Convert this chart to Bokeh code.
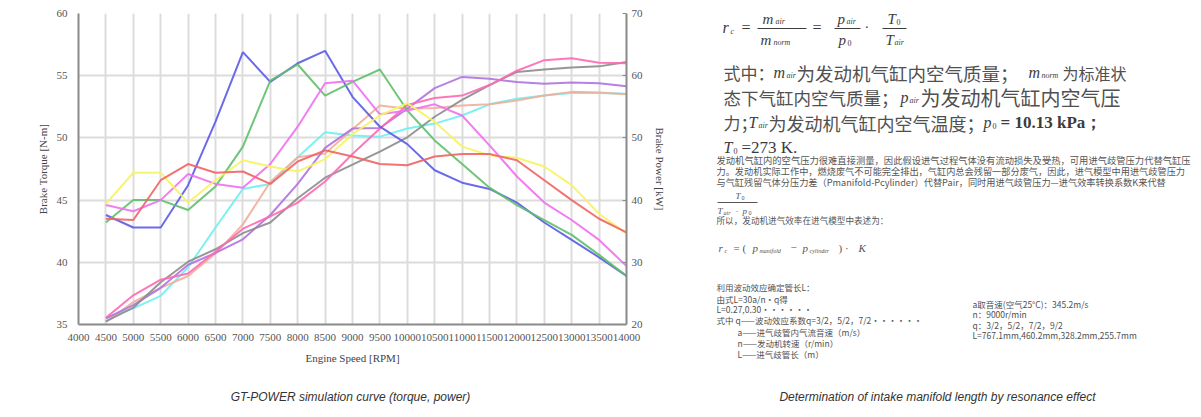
from bokeh.plotting import figure
from bokeh.models import Range1d, LinearAxis, FixedTicker, ColumnDataSource
from bokeh.embed import file_html
from bokeh.resources import INLINE

# ---------------- data ----------------
rpm = [4500, 5000, 5500, 6000, 6500, 7000, 7500, 8000, 8500, 9000,
       9500, 10000, 10500, 11000, 11500, 12000, 12500, 13000, 13500, 14000]

# Brake torque [N-m] (left axis)
torque_blue = [43.8, 42.8, 42.8, 46.2, 51.3, 56.9, 54.5, 56.0, 57.0, 53.3,
               50.9, 49.5, 47.4, 46.4, 45.9, 44.8, 43.2, 41.8, 40.4, 38.9]
torque_green = [43.2, 45.0, 45.0, 44.2, 46.1, 49.3, 54.6, 55.9, 53.4, 54.5,
                55.5, 52.2, 49.8, 47.9, 46.0, 44.6, 43.4, 42.2, 40.6, 38.9]
torque_magenta = [44.6, 44.1, 45.0, 47.1, 46.3, 46.0, 47.9, 50.9, 54.4, 54.6,
                  51.9, 52.2, 52.7, 51.8, 49.4, 46.9, 44.8, 43.4, 41.8, 39.7]
torque_yellow = [44.7, 47.2, 47.2, 44.8, 46.6, 48.2, 47.7, 47.3, 48.3, 50.3,
                 51.8, 52.8, 51.3, 49.3, 48.6, 48.4, 47.7, 46.2, 43.9, 42.3]
torque_red = [43.5, 43.4, 46.6, 47.9, 47.2, 47.3, 46.3, 48.1, 49.0, 48.5,
              47.9, 47.8, 48.5, 48.7, 48.7, 48.2, 46.6, 45.0, 43.5, 42.4]

# Brake power [kW] (right axis)
power_cyan = [21.0, 22.6, 24.6, 29.2, 35.6, 41.8, 42.6, 46.9, 50.9, 50.4,
              50.2, 51.5, 52.3, 53.6, 55.4, 56.3, 56.8, 57.2, 57.2, 57.1]
power_salmon = [20.4, 23.6, 25.9, 27.8, 31.4, 36.1, 42.9, 46.9, 47.5, 51.4,
                55.2, 54.7, 54.8, 55.2, 55.4, 56.0, 56.8, 57.4, 57.3, 57.0]
power_purple = [21.0, 23.1, 25.9, 29.6, 31.5, 33.7, 37.6, 42.6, 48.4, 51.5,
                51.6, 54.7, 58.0, 59.8, 59.5, 59.0, 58.7, 58.9, 58.8, 58.3]
power_gray = [20.5, 22.7, 26.8, 30.1, 32.1, 34.7, 36.4, 40.3, 43.6, 45.7,
              47.8, 50.1, 53.4, 56.1, 58.5, 60.6, 61.0, 61.3, 61.5, 62.2]
power_pink = [21.1, 24.7, 27.2, 28.2, 31.7, 35.4, 37.4, 39.6, 43.0, 47.4,
              51.5, 55.3, 56.4, 56.8, 58.5, 60.8, 62.5, 62.8, 62.1, 62.0]

x_ticks = list(range(4000, 14001, 500))
torque_ticks = [35, 40, 45, 50, 55, 60]
power_ticks = [20, 30, 40, 50, 60, 70]

SERIF = "Liberation Serif"
CJK = "Noto Sans CJK SC"
SANS = "Liberation Sans"

# ---------------- left chart ----------------
p = figure(width=690, height=417, output_backend="svg", toolbar_location=None,
           x_range=Range1d(4000, 14000), y_range=Range1d(35, 60),
           min_border_left=78, min_border_right=64, min_border_top=13,
           min_border_bottom=93)
p.outline_line_color = None
p.background_fill_color = "white"
p.border_fill_color = "white"
p.extra_y_ranges = {"power": Range1d(20, 70)}

p.xaxis.ticker = FixedTicker(ticks=x_ticks)
p.yaxis.ticker = FixedTicker(ticks=torque_ticks)
for ax in (p.xaxis[0], p.yaxis[0]):
    ax.axis_line_color = "#8a8a8a"
    ax.axis_line_width = 2
    ax.major_tick_line_color = None
    ax.minor_tick_line_color = None
    ax.major_label_text_font = SERIF
    ax.major_label_text_font_size = "11px"
    ax.major_label_text_color = "#555555"
    ax.axis_label_text_font = SERIF
    ax.axis_label_text_font_size = "11px"
    ax.axis_label_text_font_style = "normal"
    ax.axis_label_text_color = "#444444"
p.xaxis.axis_label = "Engine Speed [RPM]"
p.yaxis.axis_label = "Brake Torque [N-m]"
p.xaxis.major_label_standoff = 3
p.xaxis.axis_label_standoff = 8

pax = LinearAxis(y_range_name="power", ticker=FixedTicker(ticks=power_ticks),
                 axis_label="Brake Power [kW]")
pax.axis_line_color = "#8a8a8a"
pax.axis_line_width = 2
pax.major_tick_in = 4
pax.major_tick_out = 0
pax.major_tick_line_color = "#8a8a8a"
pax.minor_tick_line_color = None
pax.major_label_text_font = SERIF
pax.major_label_text_font_size = "11px"
pax.major_label_text_color = "#555555"
pax.axis_label_text_font = SERIF
pax.axis_label_text_font_size = "11px"
pax.axis_label_text_font_style = "normal"
pax.axis_label_text_color = "#444444"
pax.axis_label_standoff = 8
p.add_layout(pax, "right")

p.xgrid.grid_line_color = "#dcdcdc"
p.xgrid.grid_line_width = 2
p.ygrid.grid_line_color = "#dcdcdc"
p.ygrid.grid_line_width = 2

torque_series = [
    (torque_blue, "#5b5be8"),
    (torque_green, "#5fbf6a"),
    (torque_magenta, "#f070f0"),
    (torque_yellow, "#f7f35e"),
    (torque_red, "#f06464"),
]
power_series = [
    (power_cyan, "#6ff0f0"),
    (power_salmon, "#f2ae98"),
    (power_purple, "#b072e0"),
    (power_gray, "#8c8c8c"),
    (power_pink, "#ff68b4"),
]
for vals, col in power_series:
    p.line(rpm, vals, y_range_name="power", line_color=col, line_width=2, line_alpha=0.9)
for vals, col in torque_series:
    p.line(rpm, vals, line_color=col, line_width=2, line_alpha=0.9)

# ---------------- text overlay (whole window, page pixel coordinates) ----------------
q = figure(width=1201, height=417, output_backend="svg", toolbar_location=None,
           x_range=Range1d(0, 1201), y_range=Range1d(417, 0),
           min_border=0, x_axis_type=None, y_axis_type=None,
           stylesheets=[":host { position: absolute !important; left: 0px !important; "
                        "top: 0px !important; z-index: 5; }"])
q.outline_line_color = None
q.grid.visible = False
q.background_fill_color = None
q.border_fill_color = None

segs = []
def S(x, y, t, size, style="normal", font=SERIF, color="#3c3c3c", align="left"):
    segs.append((x, y, t, f"{size}px", style, font, color, align))

# captions
S(350, 396, "GT-POWER simulation curve (torque, power)", 12, "italic", SANS, "#333333", "center")
S(937, 396, "Determination of intake manifold length by resonance effect", 12, "italic", SANS, "#333333", "center")

# formula 1
S(722, 27, "r", 16, "italic"); S(730, 31, "c", 8, "italic")
S(741, 27, "=", 16)
S(762, 18, "m", 15, "italic"); S(775, 21, "air", 8, "italic")
S(760, 39, "m", 15, "italic"); S(773, 42, "norm", 8, "italic")
S(812, 27, "=", 16)
S(837, 18, "p", 15, "italic"); S(846, 21, "air", 8, "italic")
S(838, 39, "p", 15, "italic"); S(847, 42, "0", 8)
S(864, 27, "·", 14)
S(887, 18, "T", 15, "italic"); S(896, 21, "0", 8)
S(885, 39, "T", 15, "italic"); S(894, 42, "air", 8, "italic")

# paragraph
PC = "#505050"
S(723, 72, "式中：", 17, font=CJK, color=PC)
S(773, 72, "m", 16, "italic"); S(786, 75, "air", 8, "italic")
S(796, 72, "为发动机气缸内空气质量；", 18.5, font=CJK, color=PC)
S(1028, 72, "m", 16, "italic"); S(1041, 75, "norm", 8, "italic")
S(1062, 72, "为标准状", 16, font=CJK, color=PC)
S(723, 97, "态下气缸内空气质量；", 17.5, font=CJK, color=PC)
S(900, 97, "p", 16, "italic"); S(909, 100, "air", 8, "italic")
S(920, 97, "为发动机气缸内空气压", 20, font=CJK, color=PC)
S(723, 122, "力；", 17, font=CJK, color=PC)
S(748, 122, "T", 16, "italic"); S(758, 125, "air", 8, "italic")
S(768, 122, "为发动机气缸内空气温度；", 18, font=CJK, color=PC)
S(983, 122, "p", 16, "italic"); S(992, 125, "0", 8)
S(1000, 122, "= 10.13 kPa；", 17, "bold")
S(723, 147, "T", 16, "italic"); S(733, 150, "0", 8)
S(741, 147, "=273 K.", 17)

# small paragraph
SC = "#555555"
S(716, 159, "发动机气缸内的空气压力很难直接测量，因此假设进气过程气体没有流动损失及受热，可用进气歧管压力代替气缸压", 9.3, font=CJK, color=SC)
S(716, 170, "力。发动机实际工作中，燃烧废气不可能完全排出，气缸内总会残留一部分废气，因此，进气模型中用进气歧管压力", 9.2, font=CJK, color=SC)
S(716, 181, "与气缸残留气体分压力差（Pmanifold-Pcylinder）代替Pair，同时用进气歧管压力—进气效率转换系数K来代替", 9.2, font=CJK, color=SC)
S(735, 195, "T", 9, "italic", color=SC); S(741, 197, "0", 6, color=SC)
S(717, 210, "T", 9, "italic", color=SC); S(723, 212, "air", 6, "italic", color=SC)
S(735, 210, "·", 9, color=SC)
S(742, 210, "p", 9, "italic", color=SC); S(748, 212, "0", 6, color=SC)
S(716, 219, "所以，发动机进气效率在进气模型中表述为：", 8.6, font=CJK, color=SC)
S(718, 247, "r", 11, "italic", color=SC); S(724, 250, "c", 6, "italic", color=SC)
S(733, 247, "= (", 11, color=SC)
S(752, 247, "p", 11, "italic", color=SC); S(759, 250, "manifold", 6, "italic", color=SC)
S(790, 247, "−", 11, color=SC)
S(802, 247, "p", 11, "italic", color=SC); S(809, 250, "cylinder", 6, "italic", color=SC)
S(838, 247, ") ·", 11, color=SC)
S(858, 247, "K", 11, "italic", color=SC)

# bottom notes
BC = "#505050"
S(716, 286, "利用波动效应确定管长L：", 8.5, font=CJK, color=BC)
S(716, 298, "由式L=30a/n•q得", 8.5, font=CJK, color=BC)
S(716, 308, "L=0.27,0.30······", 8.5, font=CJK, color=BC)
S(716, 319, "式中 q——波动效应系数q=3/2，5/2，7/2······", 8.5, font=CJK, color=BC)
S(737, 331, "a——进气歧管内气流音速（m/s）", 8.5, font=CJK, color=BC)
S(737, 342, "n——发动机转速（r/min）", 8.5, font=CJK, color=BC)
S(737, 353, "L——进气歧管长（m）", 8.5, font=CJK, color=BC)
S(972, 303, "a取音速(空气25°C)：345.2m/s", 8.5, font=CJK, color=BC)
S(972, 313, "n：9000r/min", 8.5, font=CJK, color=BC)
S(972, 324, "q：3/2，5/2，7/2，9/2", 8.5, font=CJK, color=BC)
S(972, 334, "L=767.1mm,460.2mm,328.2mm,255.7mm", 8.5, font=CJK, color=BC)

src = ColumnDataSource(dict(
    x=[s[0] for s in segs], y=[s[1] for s in segs], text=[s[2] for s in segs],
    size=[s[3] for s in segs], style=[s[4] for s in segs], font=[s[5] for s in segs],
    color=[s[6] for s in segs], align=[s[7] for s in segs]))
q.text(x="x", y="y", text="text", source=src, text_font_size="size",
       text_font_style="style", text_font="font", text_color="color",
       text_align="align", text_baseline="middle")

# fraction bars
q.segment(x0=[757, 834, 882, 717], y0=[28, 28, 28, 202],
          x1=[806, 860, 906, 757], y1=[28, 28, 28, 202],
          line_color=["#3c3c3c", "#3c3c3c", "#3c3c3c", "#555555"], line_width=1)

open("out.html", "w").write(file_html([p, q], INLINE))
